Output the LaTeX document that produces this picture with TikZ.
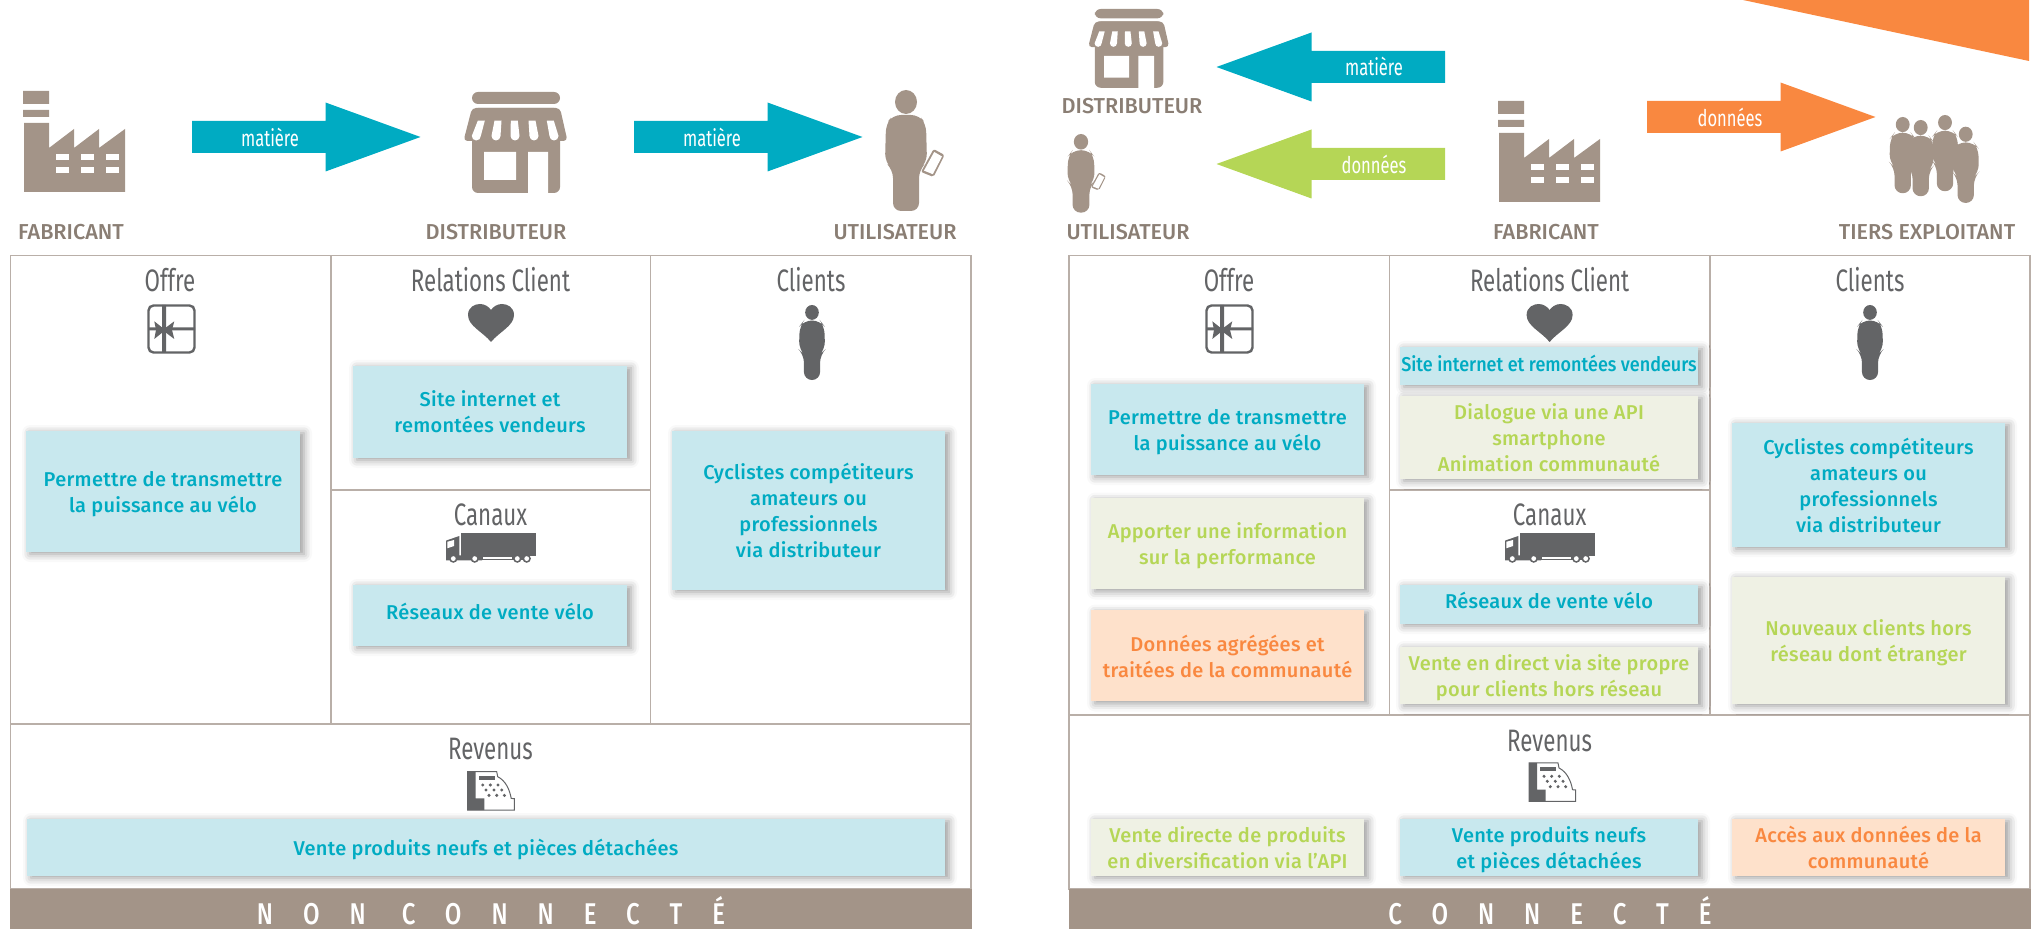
\documentclass[tikz,border=0pt]{standalone}
\usepackage{fontspec}
\setmainfont[LetterSpace=1.5]{Fira Sans Medium}
\newfontfamily\titrefont[FakeStretch=0.72]{Fira Sans}
\newfontfamily\acteurfont{Fira Sans Medium}
\newfontfamily\bandeaufont[FakeStretch=0.8,LetterSpace=100]{Fira Sans Medium}
\newfontfamily\serrefont[FakeStretch=0.9]{Fira Sans Medium}
\usetikzlibrary{shadows.blur}
\definecolor{brun}{HTML}{A39488}
\definecolor{gris}{HTML}{636466}
\definecolor{filet}{HTML}{B9AFA8}
\definecolor{tbleu}{HTML}{00ABC2}
\definecolor{fbleu}{HTML}{C8E8EE}
\definecolor{tvert}{HTML}{B5D656}
\definecolor{fvert}{HTML}{EFF1E4}
\definecolor{torange}{HTML}{F98840}
\definecolor{forange}{HTML}{FEE1CB}
\def\ux{0.5pt}
\def\corps{(0,12) ellipse (11 and 12)
  [rounded corners=4pt] (-13,25) -- (13,25) -- (20,34) -- (21,72) -- (13,80) -- (13,121) -- (-13,121) -- (-13,80) -- (-21,72) -- (-20,34) -- cycle}
\tikzset{
  cadre/.style={draw=filet,line width=0.65pt},
  titre/.style={text=gris,font=\titrefont\fontsize{15.5}{16}\selectfont,inner sep=0},
  acteur/.style={text=brun!85!black,font=\acteurfont\fontsize{10.8}{11}\selectfont,inner sep=0},
  fleche/.style={text=white,font=\titrefont\fontsize{11.5}{12}\selectfont,inner sep=0},
  bandeau/.style={text=white,font=\bandeaufont\fontsize{15}{16}\selectfont,inner sep=0,anchor=base},
  boite/.style 2 args={minimum width=#1*\ux,minimum height=#2*\ux,inner sep=0,align=center,
    font=\fontsize{10}{13}\selectfont,text depth=0pt,
    blur shadow={shadow xshift=2pt,shadow yshift=-1pt,shadow blur radius=4pt,shadow opacity=40}},
  bbleu/.style={fill=fbleu,text=tbleu},
  bvert/.style={fill=fvert,text=tvert},
  borange/.style={fill=forange,text=torange},
  pics/fabrique/.style={code={
    \fill[brun] (0,0) rectangle (26,13) (0,19) rectangle (26,26);
    \fill[brun] (1,32) -- (26,32) -- (26,57) -- (51,38) -- (51,57) -- (76,38) -- (76,57) -- (102,38) -- (102,101) -- (1,101) -- cycle;
    \foreach \a in {33,58,83} \foreach \b in {63,76}
      \fill[white] (\a,\b) rectangle (\a+12.6,\b+6);
  }},
  pics/boutique/.style={code={
    \fill[brun,rounded corners=3pt] (8,0) rectangle (96,12);
    \fill[brun,rounded corners=3pt] (8,16) rectangle (96,101);
    \fill[brun,rounded corners=2pt] (8,16) -- (96,16) -- (103.5,49) -- (-0.5,49) -- cycle;
    \foreach \a/\b in {17.3/12.3,34/32,50.3/51,68/70,86.3/90}
      \fill[white] (\a-3.5,28.7) -- (\a+3.5,28.7) -- (\b+4.5,44) arc[start angle=0,end angle=180,radius=4.5] -- cycle;
    \fill[white] (20,60) rectangle (52,88) (64,60) rectangle (84,101);
  }},
  pics/silhouette/.style={code={
    \fill[pic actions] \corps;
  }},
  pics/utilisateur/.style={code={
    \fill[brun] \corps;
    \fill[brun,rounded corners=1pt] (27.6,59) -- (38.5,65) -- (27.6,87) -- (15,82) -- cycle;
    \fill[white] (28.2,62) -- (36,66.5) -- (26.8,84.2) -- (18,80.6) -- cycle;
  }},
  pics/cadeau/.style={code={
    \draw[gris,line width=1.2pt,rounded corners=2.5pt] (1.5,1.5) rectangle (47.5,48.5);
    \fill[gris] (15,1) rectangle (19,49) (1,23.5) rectangle (48,26.5);
    \fill[gris] (17,25) -- (7.3,17.3) -- (9,26) -- (7.3,35) -- (16,28) -- (18,28) -- (27.3,35) -- (25,26) -- (27.3,17.3) -- cycle;
  }},
  pics/coeur/.style={code={
    \fill[gris] (23,38) .. controls (15,28) and (0,22) .. (0,11) .. controls (0,3) and (7,0) .. (12,0) .. controls (17,0) and (21,3) .. (23,6) .. controls (25,3) and (29,0) .. (34,0) .. controls (39,0) and (46,3) .. (46,11) .. controls (46,22) and (31,28) .. (23,38) -- cycle;
  }},
  pics/camion/.style={code={
    \fill[gris] (14.7,0) rectangle (89.7,22.3);
    \fill[gris] (0,7.3) -- (13.3,2.7) -- (13.3,22) -- (36,22) -- (36,27) -- (0,27) -- cycle;
    \fill[white] (1.3,8.5) -- (8,6.7) -- (8,12.7) -- (1.3,15) -- cycle;
    \fill[gris] (66,22) rectangle (84,27);
    \draw[gris,line width=0.5pt] (36,23.5) rectangle (67,26);
    \foreach \a in {7.3,28.7,71.3,80.7} {
      \fill[gris] (\a,25.3) circle (4.2);
      \fill[white] (\a,25.3) circle (2.4);
    }
  }},
  pics/caisse/.style={code={
    \draw[gris,line width=0.5pt,fill=white] (0,0) -- (29,0) -- (30,5) .. controls (38,9) and (42,18) .. (43.5,26.7) -- (46.7,27) -- (46.7,38.5) -- (0,38.5) -- cycle;
    \fill[gris] (0,0) rectangle (8,38.5) (0,26.7) rectangle (16.7,38.5);
    \fill[gris] (11.3,4) rectangle (27.3,8.3);
    \foreach \a/\b in {15/13.3,22.7/13.3,30.3/13.3,18.3/18.3,26.3/18.3,34/18.3,21.3/23.7,29/23.7,36.7/23.7}
      \fill[gris] (\a,\b) circle (1.7);
  }},
  pics/grandeFleche/.style={code={
    \fill[pic actions] (0,-16) -- (133.5,-16) -- (133.5,-34.5) -- (228.5,0) -- (133.5,34.5) -- (133.5,16) -- (0,16) -- cycle;
  }}
}
\begin{document}
\begin{tikzpicture}[x=\ux,y=-\ux]
  \useasboundingbox (0,0) rectangle (2035,929);

  % flux du haut, non connecte
  \pic at (23,91) {fabrique};
  \pic at (464,92) {boutique};
  \pic at (906,90) {utilisateur};
  \pic[fill=tbleu] at (192,137) {grandeFleche};
  \pic[fill=tbleu] at (634,137) {grandeFleche};
  \node[fleche] (matA) at (270,137) {matière};
  \node[fleche] (matB) at (712,137) {matière};
  \node[acteur] (fabA) at (71,232) {FABRICANT};
  \node[acteur] (disA) at (496,232) {DISTRIBUTEUR};
  \node[acteur] (utiA) at (895,232) {UTILISATEUR};

  % flux du haut, connecte
  \fill[torange] (1743,0) -- (2029,61) -- (2029,0) -- cycle;
  \pic[scale=0.78] at (1088.5,9) {boutique};
  \pic[scale=0.65] at (1081,134) {utilisateur};
  \pic at (1498,101) {fabrique};
  \foreach \x/\y in {1902.7/117,1920.7/120,1945/115,1965.7/126.7}
    \pic[fill=brun,scale=0.63] at (\x,\y) {silhouette};
  \pic[fill=tbleu,xscale=-1] at (1445,67) {grandeFleche};
  \pic[fill=tvert,xscale=-1] at (1445,164) {grandeFleche};
  \pic[fill=torange] at (1647,117) {grandeFleche};
  \node[fleche] (matC) at (1374,66) {matière};
  \node[fleche] (donA) at (1374,164) {données};
  \node[fleche] (donB) at (1730,117.5) {données};
  \node[acteur] (disB) at (1132,106) {DISTRIBUTEUR};
  \node[acteur] (utiB) at (1128,232) {UTILISATEUR};
  \node[acteur] (fabB) at (1546,232) {FABRICANT};
  \node[acteur] (tiers) at (1927,232) {TIERS EXPLOITANT};

  % cadres
  \draw[cadre] (10.4,255.7) rectangle (971,889);
  \draw[cadre] (10.4,724) -- (971,724) (331,255.7) -- (331,724) (650.5,255.7) -- (650.5,724) (331,490) -- (650.5,490);
  \draw[cadre] (1069,255.7) rectangle (2030,889);
  \draw[cadre] (1069,715) -- (2030,715) (1389.5,255.7) -- (1389.5,715) (1710,255.7) -- (1710,715) (1389.5,490) -- (1710,490);
  \fill[brun] (10,889) rectangle (971.5,929);
  \fill[brun] (1068.5,889) rectangle (2031,929);
  \node[bandeau] (nonco) at (491,924) {NON CONNECTÉ};
  \node[bandeau] (conne) at (1550,924) {CONNECTÉ};

  % non connecte
  \node[titre] (offA) at (170,280) {Offre};
  \node[titre] (relA) at (490.5,280) {Relations Client};
  \node[titre] (cliA) at (811,280) {Clients};
  \node[titre] (canA) at (490.5,515) {Canaux};
  \node[titre] (revA) at (490.5,749) {Revenus};
  \pic at (147,304) {cadeau};
  \pic at (468,304) {coeur};
  \pic[fill=gris,scale=0.62] at (812,305) {silhouette};
  \pic at (446,533.3) {camion};
  \pic at (467.7,771.7) {caisse};
  \node[boite={274}{121},bbleu] (propA) at (163,491.5) {Permettre de transmettre\\la puissance au vélo};
  \node[boite={274}{92},bbleu] (siteA) at (490,412) {Site internet et\\remontées vendeurs};
  \node[boite={274}{61},bbleu,text depth=4.5pt] (resA) at (490,615.5) {Réseaux de vente vélo};
  \node[boite={273}{159},bbleu] (cycA) at (808.5,510.5) {Cyclistes compétiteurs\\amateurs ou\\professionnels\\via distributeur};
  \node[boite={918}{57},bbleu] (venA) at (486,847.5) {Vente produits neufs et pièces détachées};

  % connecte
  \node[titre] (offB) at (1229,280) {Offre};
  \node[titre] (relB) at (1549.6,280) {Relations Client};
  \node[titre] (cliB) at (1870,280) {Clients};
  \node[titre] (canB) at (1549.6,515) {Canaux};
  \node[titre] (revB) at (1549.6,741) {Revenus};
  \pic at (1205,304) {cadeau};
  \pic at (1526.6,304) {coeur};
  \pic[fill=gris,scale=0.62] at (1870,305) {silhouette};
  \pic at (1505,533.3) {camion};
  \pic at (1529,763) {caisse};
  \node[boite={273}{91},bbleu] (propB) at (1227.5,429.5) {Permettre de transmettre\\la puissance au vélo};
  \node[boite={273}{91},bvert] (infoB) at (1227.5,544) {Apporter une information\\sur la performance};
  \node[boite={273}{91},borange] (donC) at (1227.5,656) {Données agrégées et\\traitées de la communauté};
  \node[boite={298}{38},bbleu,text depth=3pt] (siteB) at (1549,366) {\serrefont Site internet et remontées vendeurs};
  \node[boite={298}{83},bvert] (apiB) at (1549,437.5) {Dialogue via une API\\smartphone\\Animation communauté};
  \node[boite={298}{39},bbleu,text depth=4.5pt] (resB) at (1549,604.5) {Réseaux de vente vélo};
  \node[boite={298}{57},bvert] (dirB) at (1549,675.5) {Vente en direct via site propre\\pour clients hors réseau};
  \node[boite={273}{124},bbleu] (cycB) at (1868.5,485) {Cyclistes compétiteurs\\amateurs ou\\professionnels\\via distributeur};
  \node[boite={273}{127},bvert] (nouB) at (1868.5,640.5) {Nouveaux clients hors\\réseau dont étranger};
  \node[boite={273}{57},bvert] (divB) at (1227.5,847.5) {Vente directe de produits\\en diversification via l’API};
  \node[boite={298}{57},bbleu] (venB) at (1549,847.5) {Vente produits neufs\\et pièces détachées};
  \node[boite={273}{57},borange] (accB) at (1868.5,847.5) {Accès aux données de la\\communauté};
\end{tikzpicture}
\end{document}
